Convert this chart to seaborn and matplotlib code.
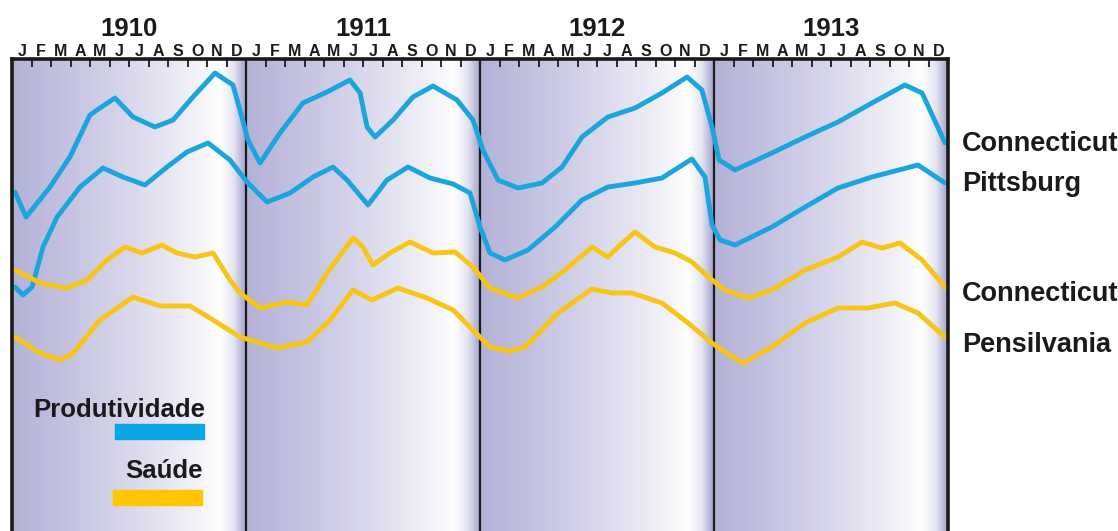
import numpy as np
import pandas as pd
import matplotlib
matplotlib.use("Agg")
import matplotlib.pyplot as plt
from matplotlib.colors import LinearSegmentedColormap
import seaborn as sns

# ---------------- data (x = months since Jan 1910, y = relative index) ----------------
years = ["1910", "1911", "1912", "1913"]
month_letters = ["J", "F", "M", "A", "M", "J", "J", "A", "S", "O", "N", "D"]

prod_ct_x = [0.15, 0.72, 1.95, 2.97, 4.0, 4.51, 5.28, 6.21, 7.33, 8.26, 9.28, 10.41, 11.33, 11.69,
             12.1, 12.72, 13.74, 14.92, 16.15, 17.33, 17.85, 18.21, 18.62, 19.54, 20.56, 21.59,
             22.82, 23.64, 24.15, 24.92, 25.95, 27.18, 28.21, 29.23, 30.56, 31.95, 33.33, 34.62,
             35.38, 35.9, 36.26, 37.08, 38.97, 40.67, 42.36, 44.1, 45.79, 46.67, 47.85]
prod_ct_y = [339, 314, 344, 374, 416, 423, 433, 414, 404, 411, 434, 458, 446, 421,
             391, 368, 398, 428, 439, 451, 438, 404, 394, 411, 434, 445,
             431, 411, 381, 351, 343, 348, 364, 394, 414, 423, 438, 454,
             441, 404, 371, 361, 378, 394, 409, 428, 446, 438, 388]

prod_pt_x = [0.15, 0.56, 1.03, 1.59, 2.31, 3.49, 4.67, 5.69, 6.82, 7.95, 8.97, 10.05, 11.18, 11.69,
             12.1, 13.08, 14.26, 15.44, 16.46, 17.18, 18.26, 19.23, 20.31, 21.44, 22.62, 23.49,
             24.0, 24.51, 25.28, 26.46, 27.85, 29.23, 30.56, 31.95, 33.33, 34.87, 35.54, 35.9,
             36.31, 37.08, 38.97, 40.67, 42.36, 44.1, 46.46, 47.85]
prod_pt_y = [244, 236, 244, 284, 314, 344, 363, 354, 346, 364, 379, 388, 371, 358,
             348, 329, 338, 354, 364, 351, 326, 351, 364, 353, 347, 338,
             304, 278, 271, 281, 304, 331, 344, 348, 353, 372, 354, 306,
             291, 286, 304, 324, 343, 354, 366, 348]

health_ct_x = [0.15, 1.44, 2.82, 3.85, 4.87, 5.79, 6.67, 7.69, 8.46, 9.38, 10.31, 11.18, 11.69,
               12.72, 14.1, 15.13, 16.15, 17.49, 18.0, 18.51, 19.38, 20.41, 21.59, 22.72, 23.64,
               24.51, 25.9, 27.18, 28.36, 29.74, 30.56, 31.08, 31.95, 32.97, 34.0, 34.87, 35.9,
               36.56, 37.74, 38.97, 40.67, 42.36, 43.59, 44.62, 45.54, 46.67, 47.85]
health_ct_y = [261, 248, 243, 251, 271, 284, 278, 286, 278, 274, 278, 251, 238,
               223, 229, 226, 258, 293, 284, 266, 278, 289, 278, 279, 264,
               243, 233, 244, 261, 284, 274, 284, 299, 284, 278, 269, 251,
               241, 233, 241, 261, 274, 289, 283, 288, 271, 244]

health_pa_x = [0.15, 1.44, 2.46, 3.13, 4.51, 6.21, 7.59, 9.13, 10.31, 11.69,
               13.59, 15.13, 16.31, 17.49, 18.46, 19.79, 21.28, 22.62, 23.64,
               24.51, 25.44, 26.31, 28.0, 29.74, 30.77, 31.79, 33.33, 34.67, 35.9,
               36.56, 37.49, 38.97, 40.67, 42.36, 43.9, 45.28, 46.46, 47.85]
health_pa_y = [194, 178, 171, 178, 211, 234, 225, 225, 211, 194,
               183, 189, 211, 241, 231, 243, 233, 221, 201,
               184, 180, 184, 218, 242, 238, 238, 228, 208, 188,
               179, 168, 184, 208, 223, 223, 228, 218, 194]

series_labels = ["Connecticut", "Pittsburg", "Connecticut", "Pensilvania"]
legend_labels = ["Produtividade", "Saúde"]

# ---------------- style ----------------
BLUE = "#1aa6dc"
YELLOW = "#f7c515"
sns.set_theme(style="white")
plt.rcParams["font.family"] = ["Liberation Sans", "DejaVu Sans"]
plt.rcParams["font.weight"] = "bold"

W, H = 1118, 531
fig = plt.figure(figsize=(W / 100, H / 100), dpi=100)
top_px = 59
ax = fig.add_axes([12 / W, 0, 936 / W, (H - top_px) / H])

# panel gradient backgrounds
cmap = LinearSegmentedColormap.from_list(
    "panel",
    [(0.0, "#b4b1d7"), (0.45, "#d4d3e9"), (0.80, "#f3f3f9"), (0.89, "#ffffff"),
     (0.95, "#e4e4f1"), (1.0, "#a6a3cd")])
grad = np.linspace(0, 1, 256).reshape(1, -1)
for k in range(4):
    ax.imshow(grad, cmap=cmap, aspect="auto", extent=[12 * k, 12 * (k + 1), 0, H - top_px],
              zorder=0, interpolation="bilinear")
ax.set_xlim(0, 48)
ax.set_ylim(0, H - top_px)

# year dividers
for k in range(1, 4):
    ax.axvline(12 * k, color="#1a1a1a", lw=1.6, zorder=2)

# lines
lw = 3.5
for xs, ys, c in [(prod_ct_x, prod_ct_y, BLUE), (prod_pt_x, prod_pt_y, BLUE),
                  (health_ct_x, health_ct_y, YELLOW), (health_pa_x, health_pa_y, YELLOW)]:
    df = pd.DataFrame({"mes": xs, "indice": ys})
    sns.lineplot(data=df, x="mes", y="indice", ax=ax, color=c, lw=lw, sort=False,
                 estimator=None, zorder=3, solid_joinstyle="round", solid_capstyle="round")

# spines & ticks
for s in ["left", "right", "top"]:
    ax.spines[s].set_visible(True)
    ax.spines[s].set_color("#1a1a1a")
    ax.spines[s].set_linewidth(2.6)
    ax.spines[s].set_zorder(5)
ax.spines["bottom"].set_visible(False)
ticks = [m for m in range(1, 48) if m % 12 != 0]
ax.set_xticks(ticks)
ax.set_yticks([])
ax.tick_params(axis="x", which="major", top=True, bottom=False, direction="in",
               length=6, width=1.3, color="#1a1a1a", labeltop=False, labelbottom=False)
ax.set_xlabel("")
ax.set_ylabel("")

# month letters and years
trans = ax.get_xaxis_transform()
for k, yr in enumerate(years):
    ax.text(12 * k + 6, 1.064, yr, transform=trans, ha="center", va="center",
            fontsize=18.5, fontweight="bold", color="#1a1a1a", clip_on=False)
    for m, lt in enumerate(month_letters):
        ax.text(12 * k + m + 0.5, 1.016, lt, transform=trans, ha="center", va="center",
                fontsize=11.5, fontweight="bold", color="#1a1a1a", clip_on=False)

# right-side series labels
for lab, ypx in zip(series_labels, [144, 184, 294, 345]):
    fig.text(962 / W, 1 - ypx / H, lab, ha="left", va="center", fontsize=19.5,
             fontweight="bold", color="#1a1a1a")

# legend inside plot
fig.text(205 / W, 1 - 410 / H, legend_labels[0], ha="right", va="center", fontsize=18.5,
         fontweight="bold", color="#1a1a1a")
fig.text(203 / W, 1 - 471 / H, legend_labels[1], ha="right", va="center", fontsize=18.5,
         fontweight="bold", color="#1a1a1a")
fig.patches.append(plt.Rectangle((115 / W, 1 - 439 / H), 89 / W, 15 / H, transform=fig.transFigure,
                                 color="#0aa7e6", zorder=6))
fig.patches.append(plt.Rectangle((113 / W, 1 - 505 / H), 89 / W, 15 / H, transform=fig.transFigure,
                                 color="#ffc600", zorder=6))

fig.savefig("out.png", dpi=100, facecolor="white")
